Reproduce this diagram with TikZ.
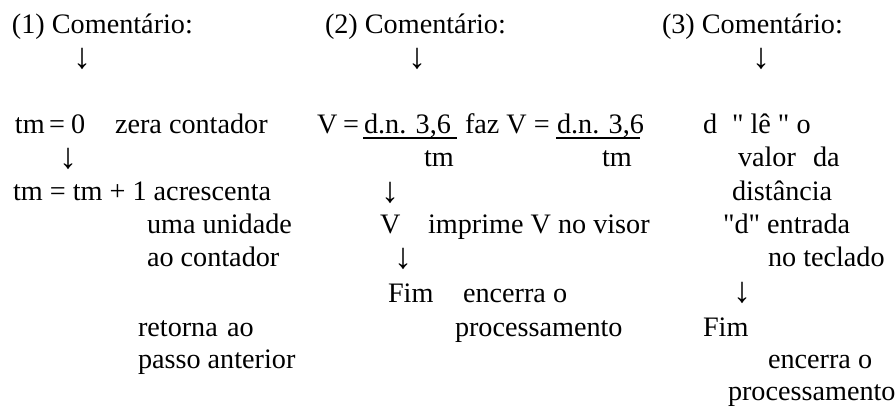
\documentclass[tikz,border=0pt]{standalone}
\usepackage{fontspec}
\setmainfont{Liberation Serif}
\begin{document}
\begin{tikzpicture}[x=1pt,y=-1pt,
  txt/.style={inner sep=0pt,outer sep=0pt,anchor=base west,font=\fontsize{28.2}{33.4}\selectfont},
  arr/.style={inner sep=0pt,outer sep=0pt,anchor=base,font=\fontsize{28.2}{33.4}\selectfont},
  dn/.style={inner sep=0pt,outer sep=0pt,anchor=base,font=\fontsize{36}{40}\selectfont},
  ul/.style={line width=1.6pt}]
\useasboundingbox (0,0) rectangle (895,410);
\def\la{33}\def\lb{68}\def\lc{99.8}\def\ld{133.2}\def\le{166.6}\def\lf{200}
\def\lg{233.4}\def\lh{266.8}\def\li{302}\def\lj{336}\def\lk{368}\def\ll{400.4}
% column 1
\node[txt] (c1h) at (12,\la) {(1) Comentário:};
\node[dn] (c1a) at (82,\lb) {↓};
\node[txt] (c1tm) at (15,\ld) {tm};
\node[txt] (c1eq) at (49,\ld) {=};
\node[txt] (c1z) at (71,\ld) {0};
\node[txt] (c1zc) at (115,\ld) {zera contador};
\node[dn] (c1b) at (68,\le+2) {↓};
\node[txt] (c1inc) at (13,\lf) {tm = tm + 1 acrescenta};
\node[txt] (c1u) at (147,\lg) {uma unidade};
\node[txt] (c1ac) at (147,\lh) {ao contador};
\node[txt] (c1r) at (138,\lj) {retorna};
\node[txt] (c1ao) at (227,\lj) {ao};
\node[txt] (c1p) at (138,\lk) {passo anterior};
% column 2
\node[txt] (c2h) at (325,\la) {(2) Comentário:};
\node[dn] (c2a) at (417,\lb) {↓};
\node[txt] (c2v) at (317,\ld) {V};
\node[txt] (c2eq) at (343,\ld) {=};
\node[txt] (c2n1) at (364,\ld) {d.n. 3,6};
\node[txt] (c2faz) at (465,\ld) {faz V =};
\node[txt] (c2n2) at (557,\ld) {d.n. 3,6};
\draw[ul] (c2n1.base west) ++(-1,4.5) coordinate (u1a) -- ++(94,0) coordinate (u1b);
\draw[ul] (c2n2.base west) ++(-1,4.5) coordinate (u2a) -- ++(84,0) coordinate (u2b);
\node[arr] (c2tm1) at (439,\le) {tm};
\node[txt] (c2tm2) at (602,\le) {tm};
\node[dn] (c2b) at (390,\lf+2) {↓};
\node[txt] (c2V) at (380,\lg) {V};
\node[txt] (c2imp) at (428,\lg) {imprime V no visor};
\node[dn] (c2c) at (403,\lh+2) {↓};
\node[txt] (c2fim) at (388,\li) {Fim};
\node[txt] (c2enc) at (463,\li) {encerra o};
\node[txt] (c2proc) at (455,\lj) {processamento};
% column 3
\node[txt] (c3h) at (662,\la) {(3) Comentário:};
\node[dn] (c3a) at (761,\lb) {↓};
\node[txt] (c3d) at (703,\ld) {d};
\node[txt] (c3le) at (732,\ld) {\textquotedbl\ lê \textquotedbl\ o};
\node[txt] (c3val) at (738,\le) {valor};
\node[txt] (c3da) at (813,\le) {da};
\node[txt] (c3dist) at (732,\lf) {distância};
\node[txt] (c3ent) at (723,\lg) {\textquotedbl d\textquotedbl\ entrada};
\node[txt] (c3tec) at (768,\lh) {no teclado};
\node[dn] (c3b) at (742,\li) {↓};
\node[txt] (c3fim) at (703,\lj) {Fim};
\node[txt] (c3enc) at (768,\lk) {encerra o};
\node[txt] (c3proc) at (728,\ll) {processamento};
\end{tikzpicture}
\end{document}
